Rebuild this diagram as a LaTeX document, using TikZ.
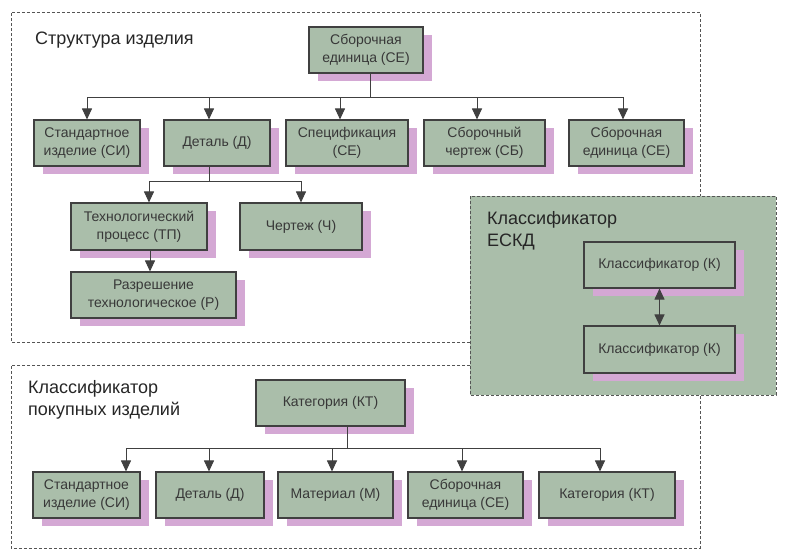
\documentclass[tikz,border=0pt]{standalone}
\usepackage{fontspec}
\setmainfont{Liberation Sans}
\usetikzlibrary{arrows.meta, shadows}

\definecolor{boxfill}{HTML}{AABEAA}
\definecolor{boxshadow}{HTML}{D4A8D4}
\definecolor{lineclr}{HTML}{404040}
\definecolor{frameclr}{HTML}{555555}
\definecolor{textclr}{HTML}{383838}

\tikzset{
    block/.style={rectangle, draw=lineclr, line width=1.1pt, fill=boxfill, text=textclr,
        align=center, inner sep=0pt, minimum height=46pt, font=\fontsize{14}{18}\selectfont,
        drop shadow={shadow xshift=9pt, shadow yshift=-8pt, fill=boxshadow, draw=none, opacity=1}},
    conn/.style={draw=lineclr, line width=1pt, -{Triangle[width=10pt,length=11pt]}},
    conn2/.style={draw=lineclr, line width=1pt, {Triangle[width=10pt,length=11pt]}-{Triangle[width=10pt,length=11pt]}},
    frame/.style={draw=frameclr, line width=0.8pt, dash pattern=on 3pt off 2pt},
    heading/.style={anchor=north west, inner sep=0pt, align=left, text=black!85,
        font=\fontsize{18}{22}\selectfont}
}

\begin{document}
\begin{tikzpicture}[x=1pt, y=-1pt]
    \useasboundingbox (0,0) rectangle (790,555);

    % Frames
    \draw[frame] (470,342) -- (11,342) -- (11,12) -- (700,12) -- (700,196);
    \draw[frame] (470,365) -- (11,365) -- (11,548) -- (700,548) -- (700,395);
    \draw[frame, fill=boxfill] (470,196) rectangle (776,395);

    % Headings
    \node[heading] (hstruct) at (35,31.5) {Структура изделия};
    \node[heading] (heskd) at (487,211) {Классификатор\\ЕСКД};
    \node[heading] (hbuy) at (28,380) {Классификатор\\покупных изделий};

    % Product structure
    \node[block, minimum width=114pt] (sb) at (366,50) {Сборочная\\единица (СЕ)};
    \node[block, minimum width=106pt] (si1) at (87,143) {Стандартное\\изделие (СИ)};
    \node[block, minimum width=106pt] (det1) at (217,143) {Деталь (Д)};
    \node[block, minimum width=122pt] (spec) at (347,143) {Спецификация\\(СЕ)};
    \node[block, minimum width=121pt] (chsb) at (484.5,143) {Сборочный\\чертеж (СБ)};
    \node[block, minimum width=115pt] (se1) at (626.5,143) {Сборочная\\единица (СЕ)};
    \node[block, minimum width=136pt, minimum height=47pt] (tp) at (139,226.5) {Технологический\\процесс (ТП)};
    \node[block, minimum width=122pt, minimum height=47pt] (ch) at (301,226.5) {Чертеж (Ч)};
    \node[block, minimum width=165pt] (razr) at (153.5,295) {Разрешение\\технологическое (Р)};

    \draw[conn] ([xshift=4pt]sb.south) -- ++(0,24) -| (si1.north);
    \draw[conn] ([xshift=4pt]sb.south) -- ++(0,24) -| ([xshift=-8pt]det1.north);
    \draw[conn] ([xshift=4pt]sb.south) -- ++(0,24) -| ([xshift=-7pt]spec.north);
    \draw[conn] ([xshift=4pt]sb.south) -- ++(0,24) -| ([xshift=-7.5pt]chsb.north);
    \draw[conn] ([xshift=4pt]sb.south) -- ++(0,24) -| ([xshift=-3.5pt]se1.north);
    \draw[conn] ([xshift=-8pt]det1.south) -- ++(0,15) -| ([xshift=10pt]tp.north);
    \draw[conn] ([xshift=-8pt]det1.south) -- ++(0,15) -| (ch.north);
    \draw[conn] ([xshift=11pt]tp.south) -- ([xshift=-3.5pt]razr.north);

    % ESKD classifier
    \node[block, minimum width=151pt] (k1) at (659.5,265) {Классификатор (К)};
    \node[block, minimum width=151pt, minimum height=47pt] (k2) at (659.5,349.5) {Классификатор (К)};
    \draw[conn2] (k1.south) -- (k2.north);

    % Purchased items classifier
    \node[block, minimum width=149pt] (kt) at (330.5,403) {Категория (КТ)};
    \node[block, minimum width=107pt] (si2) at (86.5,495) {Стандартное\\изделие (СИ)};
    \node[block, minimum width=108pt] (det2) at (210,495) {Деталь (Д)};
    \node[block, minimum width=115pt] (mat) at (335.5,495) {Материал (М)};
    \node[block, minimum width=115pt] (se2) at (465.5,495) {Сборочная\\единица (СЕ)};
    \node[block, minimum width=136pt] (kt2) at (607,495) {Категория (КТ)};

    \draw[conn] ([xshift=16.5pt]kt.south) -- ++(0,22) -| ([xshift=39.5pt]si2.north);
    \draw[conn] ([xshift=16.5pt]kt.south) -- ++(0,22) -| ([xshift=-1pt]det2.north);
    \draw[conn] ([xshift=16.5pt]kt.south) -- ++(0,22) -| ([xshift=-3.5pt]mat.north);
    \draw[conn] ([xshift=16.5pt]kt.south) -- ++(0,22) -| ([xshift=-3.5pt]se2.north);
    \draw[conn] ([xshift=16.5pt]kt.south) -- ++(0,22) -| ([xshift=-7pt]kt2.north);
\end{tikzpicture}
\end{document}
